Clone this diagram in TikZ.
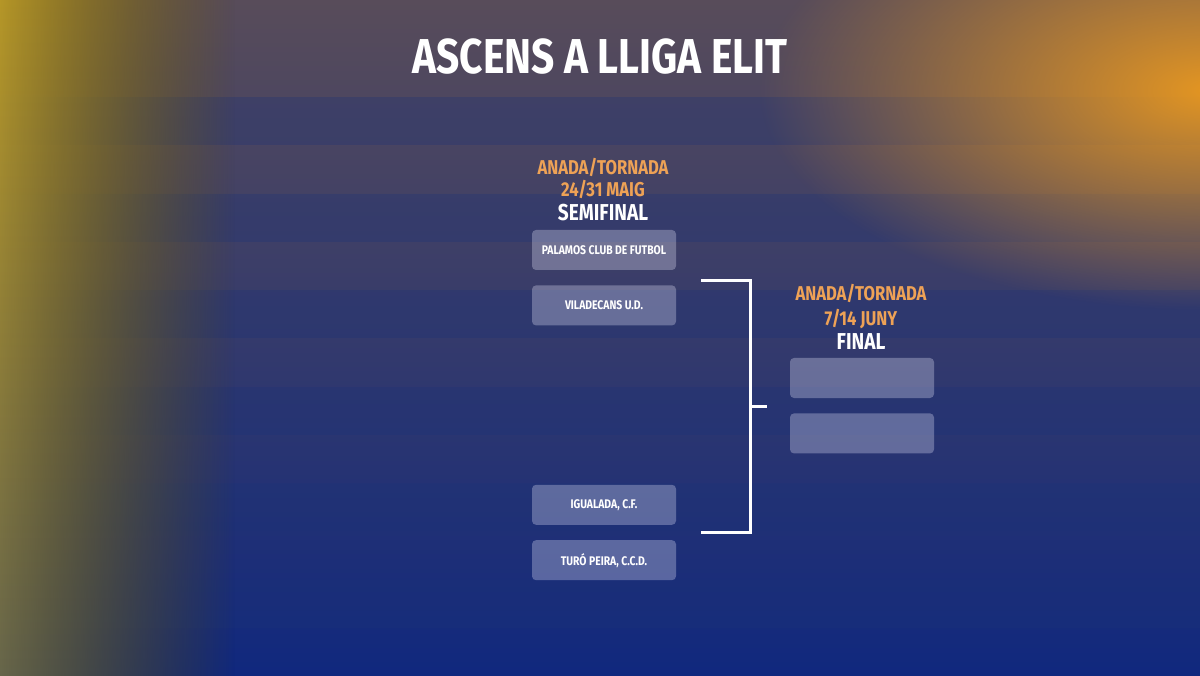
\documentclass[tikz,border=0pt]{standalone}
\usepackage{fontspec}
\setmainfont{Fira Sans}[FakeStretch=0.83]
\usetikzlibrary{positioning, calc, fadings}
\definecolor{bgtop}{RGB}{88,76,90}
\definecolor{bgmid}{RGB}{38,50,110}
\definecolor{bgbot}{RGB}{16,40,126}
\definecolor{bandcol}{RGB}{28,50,120}
\definecolor{goldleft}{RGB}{210,174,44}
\definecolor{oliveleft}{RGB}{120,118,84}
\definecolor{orangetr}{RGB}{228,150,34}
\definecolor{datecol}{RGB}{238,162,86}
\definecolor{boxcol}{RGB}{236,236,255}
\tikzfading[name=softspot, inner color=transparent!0, outer color=transparent!100]
\tikzfading[name=fadeeast, left color=transparent!0, right color=transparent!100]
\tikzset{
  team/.style = {
    rectangle, rounded corners=4pt, fill=boxcol, fill opacity=0.3,
    text opacity=1, text=white, minimum width=144pt, minimum height=40pt,
    inner sep=0pt, font=\bfseries\fontsize{12.5}{13}\selectfont
  },
  stage/.style = {text=white, inner sep=0pt, anchor=base,
    font=\bfseries\fontsize{23}{25}\selectfont},
  dates/.style = {text=datecol, inner sep=0pt, anchor=base,
    font=\bfseries\fontsize{20}{22}\selectfont},
  bracket/.style = {white, line width=3pt}
}
\begin{document}
\begin{tikzpicture}[x=1pt, y=1pt]
  \useasboundingbox (0,0) rectangle (1200,-676);
  \clip (0,0) rectangle (1200,-676);

  % Background
  \fill[top color=bgtop, middle color=bgmid, bottom color=bgbot]
    (0,0) rectangle (1200,-676);
  \foreach \i in {0,...,6}
    \fill[bandcol, opacity=0.3] (0,-97-96.6*\i) rectangle (1200,-145-96.6*\i);
  \fill[top color=goldleft, bottom color=oliveleft, path fading=fadeeast]
    (-40,0) rectangle (235,-676);
  \fill[orangetr, path fading=softspot] (760,130) rectangle (1660,-310);

  % Title
  \node[text=white, font=\bfseries\fontsize{49}{52}\selectfont, inner sep=0pt]
    (TITLE) at (600,-57) {ASCENS A LLIGA ELIT};

  % Semifinal
  \node[dates] (SEMIDATE) at (603,-175) {ANADA/TORNADA};
  \node[dates] (SEMIDAYS) at (603,-197) {24/31 MAIG};
  \node[stage] (SEMI) at (603,-221) {SEMIFINAL};
  \node[team] (PALAMOS) at (604,-250) {PALAMOS CLUB DE FUTBOL};
  \node[team, below=15pt of PALAMOS]    (VILADECANS) {VILADECANS U.D.};
  \node[team, below=159pt of VILADECANS] (IGUALADA)  {IGUALADA, C.F.};
  \node[team, below=15pt of IGUALADA]   (TURO)       {TURÓ PEIRA, C.C.D.};

  % Final
  \node[dates] (FINALDATE) at (861,-301) {ANADA/TORNADA};
  \node[dates] (FINALDAYS) at (861,-326) {7/14 JUNY};
  \node[stage] (FINAL) at (861,-350) {FINAL};
  \node[team] (F1) at (862,-378) {};
  \node[team, below=15pt of F1] (F2) {};

  % Bracket
  \coordinate (B1) at ($(PALAMOS.south east)!0.5!(VILADECANS.north east)+(25,-2.5)$);
  \coordinate (B2) at ($(IGUALADA.south east)!0.5!(TURO.north east)+(25,0)$);
  \coordinate (BM) at ($(B1)!0.5!(B2)+(49,0)$);
  \coordinate (FT) at ($(F1.south west)!0.5!(F2.north west)+(-23,0)$);
  \draw[bracket] (B1) -| ($(B2)+(49,0)$) -- (B2);
  \draw[bracket] (BM) -- (BM -| FT);
\end{tikzpicture}
\end{document}
